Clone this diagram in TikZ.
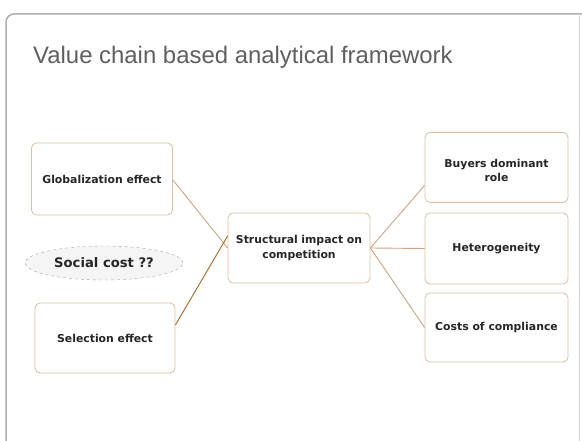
\documentclass[tikz,border=0pt]{standalone}
\usepackage{fontspec}
\setmainfont{Liberation Sans}
\newfontfamily\boxfont{DejaVu Sans}
\usetikzlibrary{shapes.geometric}
\definecolor{boxline}{RGB}{222,190,160}
\definecolor{linkc}{RGB}{205,165,130}
\definecolor{linkd}{RGB}{170,115,60}
\definecolor{framec}{RGB}{175,175,175}
\definecolor{titlec}{RGB}{95,95,95}
\tikzset{
  box/.style={draw=boxline, line width=0.8bp, rounded corners=5bp, fill=white, align=center,
    font=\boxfont\fontsize{10.9}{15}\selectfont\bfseries, inner sep=2bp, text=black!85},
  link/.style={draw=linkc, line width=0.9bp},
}
\begin{document}
\begin{tikzpicture}[x=1bp,y=-1bp]
\useasboundingbox (0,0) rectangle (582,441);
\fill[white] (0,0) rectangle (582,441);
% slide frame
\begin{scope}
\clip (0,0) rectangle (582,441);
\draw[framec, line width=1.5bp, rounded corners=8bp] (6,460) -- (6,14) -- (600,14);
\draw[framec!50, line width=0.8bp] (579,14) -- (579,441);
\end{scope}
\node[anchor=base west, text=titlec, font=\fontsize{24}{28}\selectfont, inner sep=0pt] (title) at (33,64) {Value chain based analytical framework};
% left column
\node[box, minimum width=141bp, minimum height=72bp] (glob) at (102,179) {Globalization effect};
\node[draw=gray!70, dashed, fill=gray!8, ellipse, minimum width=158bp, minimum height=34bp, inner sep=0pt,
  font=\boxfont\fontsize{13.2}{15}\selectfont\bfseries, text=black!85] (social) at (104,263) {Social cost ??};
\node[box, minimum width=140bp, minimum height=70bp] (sel) at (105,338) {Selection effect};
% centre
\node[box, minimum width=142bp, minimum height=70bp, text width=138bp] (struct) at (299,248) {Structural impact on\\competition};
% right column
\node[box, minimum width=143bp, minimum height=70bp, text width=138bp, anchor=north] (buy) at (496.5,132) {\rule{0pt}{14bp}Buyers dominant\\[-1bp]role\\[19bp]};
\node[box, minimum width=143bp, minimum height=71bp] (het) at (496.5,248.5) {Heterogeneity};
\node[box, minimum width=143bp, minimum height=69bp] (cost) at (496.5,327.5) {Costs of compliance};
% connectors
\draw[link] (glob.east) ++(0,1) coordinate (g1);
\draw[link] (g1) -- (struct.west);
\draw[draw=linkd, line width=1bp] (sel.east) ++(0,-13) coordinate (s1);
\draw[draw=linkd, line width=1bp] (s1) -- ([yshift=12bp]struct.west);
\draw[link] (struct.east) -- ([yshift=-18bp]buy.west);
\draw[link] (struct.east) -- (het.west);
\draw[link] (struct.east) -- (cost.west);
\end{tikzpicture}
\end{document}
